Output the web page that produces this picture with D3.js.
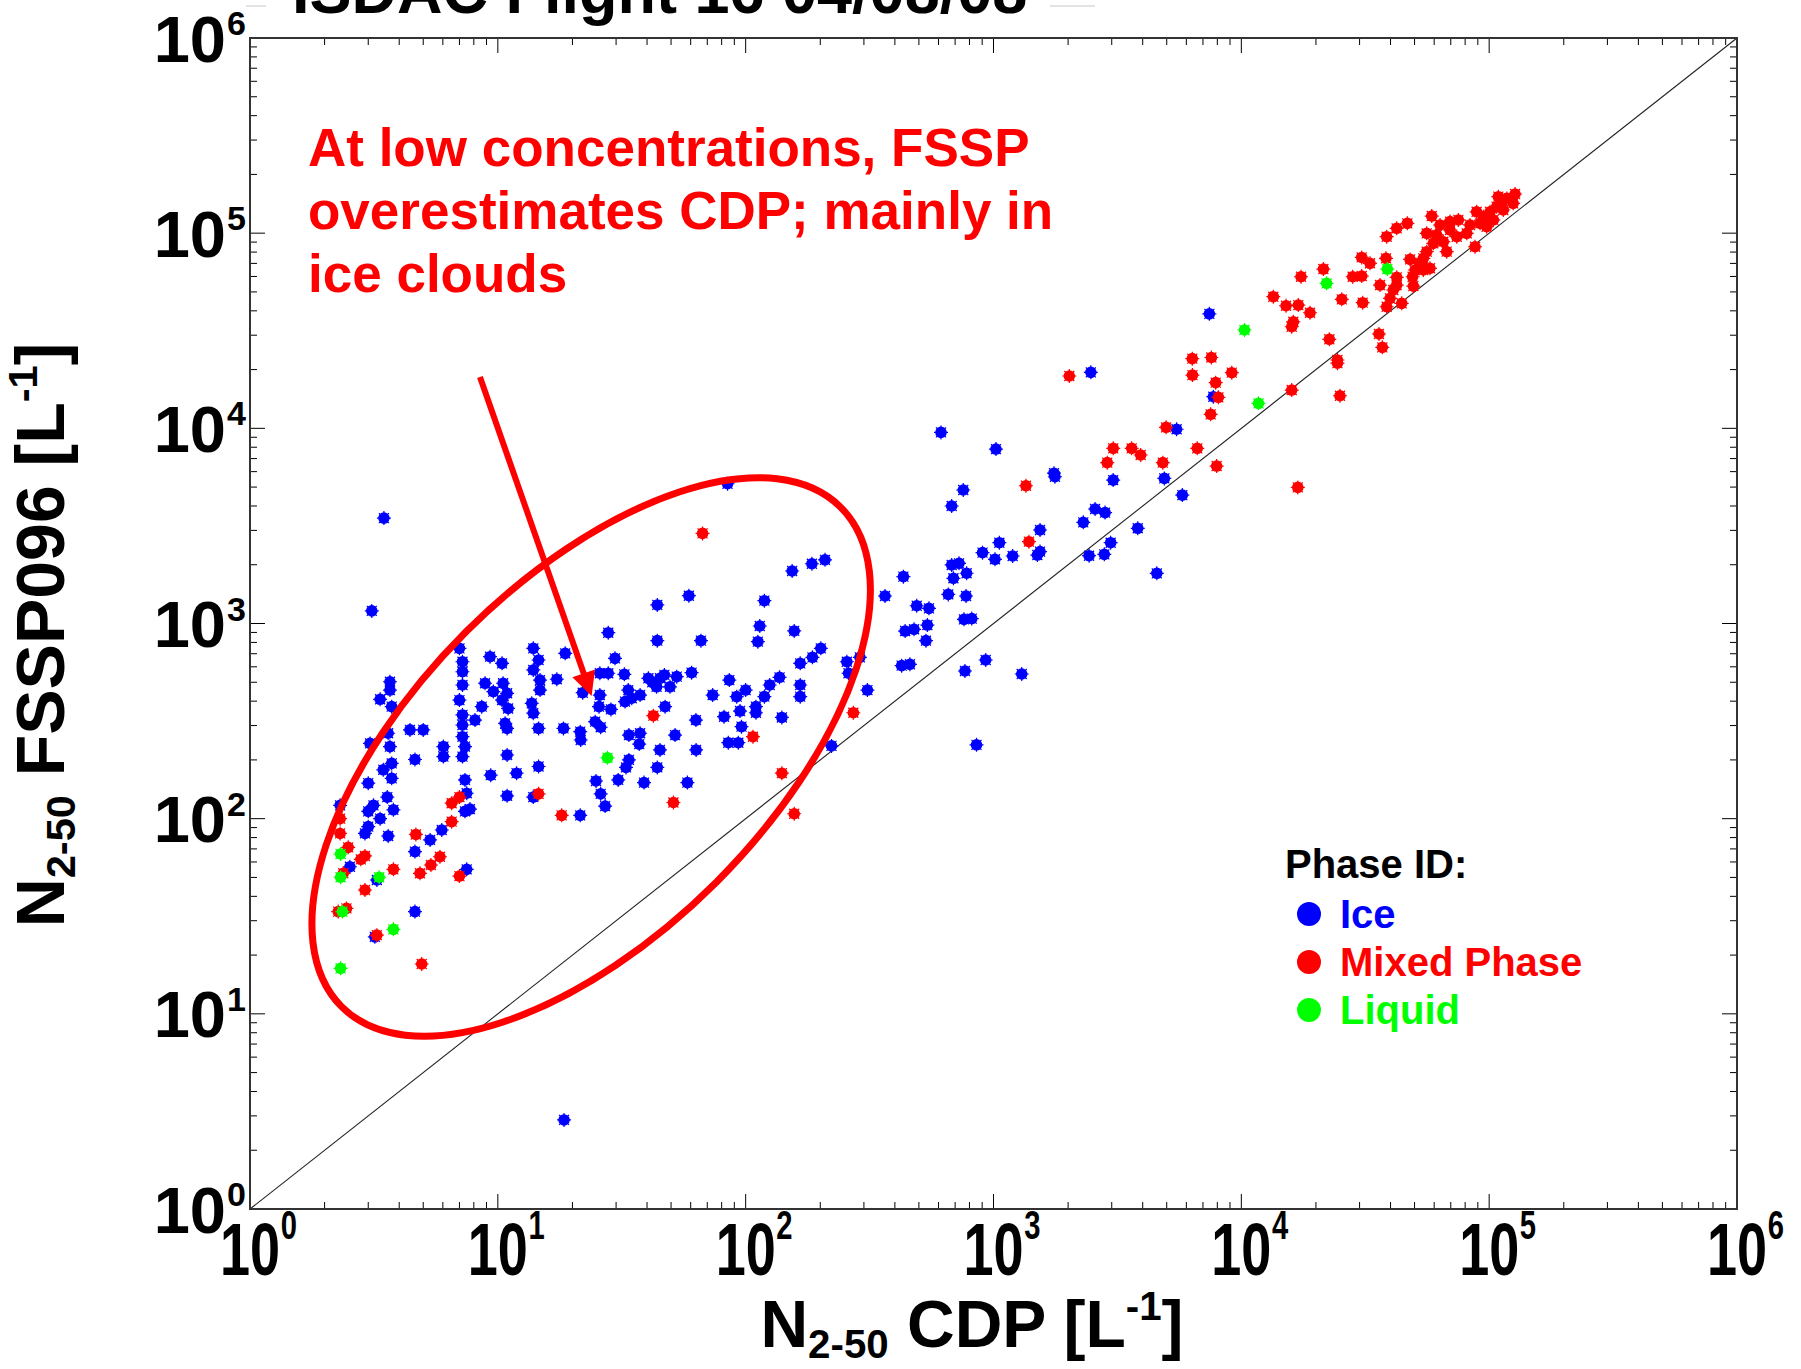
<!DOCTYPE html>
<html><head><meta charset="utf-8">
<script src="https://cdn.jsdelivr.net/npm/d3@7"></script>
<style>body{margin:0;background:#fff}svg{display:block}text{font-family:"Liberation Sans",Arial,sans-serif;font-weight:bold}</style>
</head><body><svg id="c" width="1801" height="1369"></svg>
<script>
// ---- data (CDP [L-1], FSSP096 [L-1]) ----
const decades = [0, 1, 2, 3, 4, 5, 6];
const tickLabels = ["0", "1", "2", "3", "4", "5", "6"];
const ice = [
[3.1,1160],[3.67,503],[3.67,456],[3.35,409],[3.73,375],[7.0,746],[7.2,637],[7.2,566],[7.2,484],[7.0,405],[7.2,340],[7.2,302],[7.2,263],[7.37,234],[7.2,208],[6.03,234],[6.03,208],[8.09,320],[4.42,285],[5.0,285],[4.63,201],[3.05,243],[3.61,274],[3.67,234],[3.73,192],[3.45,178],[3.73,161],[3.0,152],[2.31,117],[3.58,129],[3.15,117],[3.0,109],[3.79,111],[3.35,100],[3.0,91],[2.91,84],[3.61,81.5],[7.37,158],[7.49,135],[7.37,109],[7.72,112],[5.94,87.5],[5.33,77.8],[4.63,67.8],[2.53,56.7],[3.25,48.5],[7.49,55],[4.63,33.4],[3.19,24.8],[9.3,676],[10.4,625],[8.88,494],[9.59,448],[8.61,375],[10.5,494],[10.9,439],[10.4,405],[11.0,367],[10.7,308],[10.9,290],[13.9,746],[14.6,650],[13.9,578],[14.8,513],[14.8,456],[13.7,390],[13.9,347],[14.6,290],[17.3,518],[18.7,703],[18.4,290],[10.9,212],[14.6,185],[11.9,171],[9.36,167],[10.9,131],[13.9,129],[21.5,104],
[3.47,3467],[84.5,5200],[185,2024],[209,2120],
[59,1388],[44.0,1245],[119,1309],[27.9,897],[44.0,817],[66,817],[114,971],[112,807],[157,916],[29.7,663],[25.8,556],[27.9,556],[32.4,549],[40.5,524],[45.1,524],[52.7,534],[43.7,474],[49.5,474],[42,500],[47,545],[33.6,456],[34.7,414],[37.5,430],[32.6,398],[47.3,375],[60.5,560],[25.8,430],[25.6,375],[28.6,363],[22.0,442],[24.7,314],[26.0,294],[21.5,279],[21.6,253],[33.8,268],[37.5,274],[37.2,241],[33.8,200],[32.9,183],[30.6,158],[24.9,156],[26.0,134],[27.1,116],[38.9,153],[44.0,183],[45.1,225],[51.9,268],[58.2,153],[63.1,225],[63,320],[73.6,430],[85.9,513],[92.0,422],[100,456],[94.9,356],[81.8,333],[96.2,296],[85.1,245],[93.4,245],[110,375],[110,349],[119,422],[125,484],[137,530],[140,330],[166,625],[186,671],[201,746],[166,484],[166,422],[222,236],[256,637],[289,671],[260,556],[310,456],[365,1383],[154,1858],
[614,9530],[1023,7830],[755,4830],[678,4000],[1754,5890],[1770,5650],[433,1738],[490,1233],[549,1196],[541,982],[534,817],[440,915],[478,934],[426,608],[460,618],[657,1410],[775,1383],[678,1995],[726,2034],[689,1705],[779,1809],[760,1050],[817,1060],[767,571],[930,650],[1300,551],[854,239],[903,2307],[1014,2133],[1056,2594],[1195,2218],[1541,3013],[1503,2243],[1541,2335],[2303,3298],[2570,3860],[2820,3700],[2430,2225],[2800,2261],[2970,2594],[3820,3075],[4560,1808],[5780,4550],[4890,5540],[3040,5430],[5480,9890],[2470,19360],[7710,14520],[7430,38600],
[18.5,2.86]
];
const mixed = [
[7.0,129],[6.51,120],[6.51,96.5],[4.67,83],[2.31,100],[2.31,84],[2.49,71.3],[2.91,64.4],[2.8,61.9],[2.38,52.5],[3.79,55],[4.85,52.5],[5.37,57.9],[5.84,63.8],[7.0,50.8],[2.91,43.1],[2.45,34.7],[2.27,33.4],[3.25,25.3],[4.93,18.0],[14.6,134],[18.1,104],
[42.4,337],[107,263],[140,171],[51.1,121],[157,106],[272,349],[67,2895],
[1352,5080],[1390,2625],[2023,18540],[3042,7900],[2877,6670],[3610,7900],[3925,7300],[4820,6670],[4970,10120],[6640,7900],[7950,6410],[6350,18750],[7880,17140],[8080,14420],[7520,11800],[9150,19280],[6340,22760],[7570,23070],[16900,4980],
[13460,47250],[15150,42460],[16980,42800],[18930,39100],[16210,35150],[15970,33160],[17410,59800],[21430,65500],[25430,45800],[22650,28590],[24420,22390],[24420,21580],[15970,15710],[25000,14690],[28140,59800],[30600,60300],[30600,75100],[33040,70100],[30880,44030],[36280,54230],[35920,30430],[37060,26000],[38350,74300],[38590,95900],[42350,105900],[46750,112300],[58650,122400],[42350,59400],[42350,54230],[39820,46340],[44380,43700],[49440,53560],[47960,73400],[50230,64770],[54250,74300],[55960,80370],[57700,66070],[55960,99800],[61380,97900],[67400,80370],[69500,103800],[75100,116900],[74000,95900],[83720,110100],[81200,99800],[87700,85200],[91900,112300],[94800,121400],[100800,128700],[107200,136500],[112400,144800],[117800,150700],[127200,158700],[114000,131400],[104000,116900],[97700,107900],[125000,142200],[108900,153800],[89000,128700],[63350,110100],[69500,114600],[65300,90400],[59500,88700],[52600,70100],[54250,64770],[49100,59800],[41040,51150],[38590,41980]
];
const liquid = [
[2.32,65.9],[2.32,50.1],[3.32,50.1],[2.36,33.4],[3.79,27.1],[2.32,17.1],[27.7,205],[11730,13430],[10300,31900],[22080,55340],[38820,65500]
];
const seriesNames = ["Ice", "Mixed Phase", "Liquid"];
const seriesColors = ["#0000ff", "#ff0000", "#00ff00"];
const annotationLines = ["At low concentrations, FSSP", "overestimates CDP; mainly in", "ice clouds"];
const ellipseCenter = [23.8, 207];
const arrowFrom = [8.47, 18330];
const arrowTo = [23.9, 425];
const titleText = "ISDAC Flight 16 04/08/08";

// ---- layout ----
const svg = d3.select("#c");
const M = {l: 250, r: 1737, t: 38, b: 1209};
const x = d3.scaleLog().domain([1, 1e6]).range([M.l, M.r]);
const y = d3.scaleLog().domain([1, 1e6]).range([M.b, M.t]);

// title (cut off at the top, as in the original)
svg.append("text").attr("x", 292).attr("y", 13).attr("font-size", 63).attr("fill", "#000").text(titleText);
svg.append("line").attr("x1", 246).attr("x2", 266).attr("y1", 6).attr("y2", 6).attr("stroke", "#e4e4e4").attr("stroke-width", 2);
svg.append("line").attr("x1", 1050).attr("x2", 1095).attr("y1", 6).attr("y2", 6).attr("stroke", "#e4e4e4").attr("stroke-width", 2);

// 1:1 line
svg.append("line").attr("x1", x(1)).attr("y1", y(1)).attr("x2", x(1e6)).attr("y2", y(1e6))
  .attr("stroke", "#222").attr("stroke-width", 1.1);

// ticks
const minor = [];
decades.slice(0, 6).forEach(k => { for (let j = 2; j <= 9; j++) minor.push(j * Math.pow(10, k)); });
const major = decades.map(k => Math.pow(10, k));
const tk = svg.append("g").attr("stroke", "#000").attr("stroke-width", 1);
function ticks(vals, len) {
  vals.forEach(v => {
    tk.append("line").attr("x1", x(v)).attr("x2", x(v)).attr("y1", M.b).attr("y2", M.b - len);
    tk.append("line").attr("x1", x(v)).attr("x2", x(v)).attr("y1", M.t).attr("y2", M.t + len);
    tk.append("line").attr("y1", y(v)).attr("y2", y(v)).attr("x1", M.l).attr("x2", M.l + len);
    tk.append("line").attr("y1", y(v)).attr("y2", y(v)).attr("x1", M.r).attr("x2", M.r - len);
  });
}
ticks(minor, 7);
ticks(major, 15);

// frame
svg.append("rect").attr("x", M.l).attr("y", M.t).attr("width", M.r - M.l).attr("height", M.b - M.t)
  .attr("fill", "none").attr("stroke", "#333").attr("stroke-width", 2);

// y tick labels
decades.forEach((k, i) => {
  const yy = y(Math.pow(10, k));
  svg.append("text").attr("x", 226).attr("y", yy + 23.5).attr("text-anchor", "end").attr("font-size", 65).text("10");
  svg.append("text").attr("x", 227).attr("y", yy - 3).attr("font-size", 34).text(tickLabels[i]);
});
// x tick labels (condensed)
decades.forEach((k, i) => {
  const xx = x(Math.pow(10, k));
  const g = svg.append("g").attr("transform", `translate(${xx},1275) scale(0.73,1)`);
  g.append("text").attr("x", 0).attr("y", 0).attr("text-anchor", "middle").attr("font-size", 74).text("10");
  g.append("text").attr("x", 42).attr("y", -36).attr("font-size", 40).text(tickLabels[i]);
});

// axis titles
function axisTitle(sel, fs, main, sub, rest) {
  const s = fs * 0.61;
  sel.append("tspan").attr("font-size", fs).text(main);
  sel.append("tspan").attr("font-size", s).attr("dy", 11).text(sub);
  sel.append("tspan").attr("font-size", fs).attr("dy", -11).text(rest);
  sel.append("tspan").attr("font-size", s).attr("dy", -27).text("-1");
  sel.append("tspan").attr("font-size", fs).attr("dy", 27).text("]");
}
axisTitle(svg.append("text").attr("x", 972).attr("y", 1347).attr("text-anchor", "middle"), 66, "N", "2-50", " CDP [L");
axisTitle(svg.append("text").attr("transform", "translate(64,635) rotate(-90)").attr("text-anchor", "middle"), 68, "N", "2-50", " FSSP096 [L");

// points
const marker = "M-7,0H7M0,-7V7M-5,-5L5,5M-5,5L5,-5";
[ice, mixed, liquid].forEach((data, si) => {
  const g = svg.append("g");
  const p = g.selectAll("g").data(data).join("g")
    .attr("transform", d => `translate(${x(d[0])},${y(d[1])})`);
  p.append("circle").attr("r", 5.8).attr("fill", seriesColors[si]);
  p.append("path").attr("d", marker).attr("stroke", seriesColors[si]).attr("stroke-width", 1.2);
});

// annotation ellipse
const ecx = x(ellipseCenter[0]), ecy = y(ellipseCenter[1]);
svg.append("ellipse").attr("cx", ecx).attr("cy", ecy).attr("rx", 353).attr("ry", 177)
  .attr("transform", `rotate(-45,${ecx},${ecy})`)
  .attr("fill", "none").attr("stroke", "#ff0000").attr("stroke-width", 7);

// arrow
const ax0 = x(arrowFrom[0]), ay0 = y(arrowFrom[1]), ax1 = x(arrowTo[0]), ay1 = y(arrowTo[1]);
const dx = ax1 - ax0, dy = ay1 - ay0, L = Math.hypot(dx, dy), ux = dx / L, uy = dy / L;
const hl = 24, hw = 12;
const bx = ax1 - ux * hl, by = ay1 - uy * hl;
svg.append("line").attr("x1", ax0).attr("y1", ay0).attr("x2", bx + ux * 2).attr("y2", by + uy * 2)
  .attr("stroke", "#ff0000").attr("stroke-width", 6);
svg.append("path").attr("d", `M${ax1},${ay1}L${bx - uy * hw},${by + ux * hw}L${bx + uy * hw},${by - ux * hw}Z`).attr("fill", "#ff0000");

// annotation text
annotationLines.forEach((t, i) => {
  svg.append("text").attr("x", 308).attr("y", 166 + i * 63).attr("font-size", 53).attr("fill", "#ff0000").text(t);
});

// legend
svg.append("text").attr("x", 1285).attr("y", 878).attr("font-size", 40).attr("fill", "#000").text("Phase ID:");
seriesNames.forEach((n, i) => {
  svg.append("circle").attr("cx", 1309).attr("cy", 914 + i * 48).attr("r", 12).attr("fill", seriesColors[i]);
  svg.append("text").attr("x", 1340).attr("y", 928 + i * 48).attr("font-size", 40).attr("fill", seriesColors[i]).text(n);
});
</script></body></html>
